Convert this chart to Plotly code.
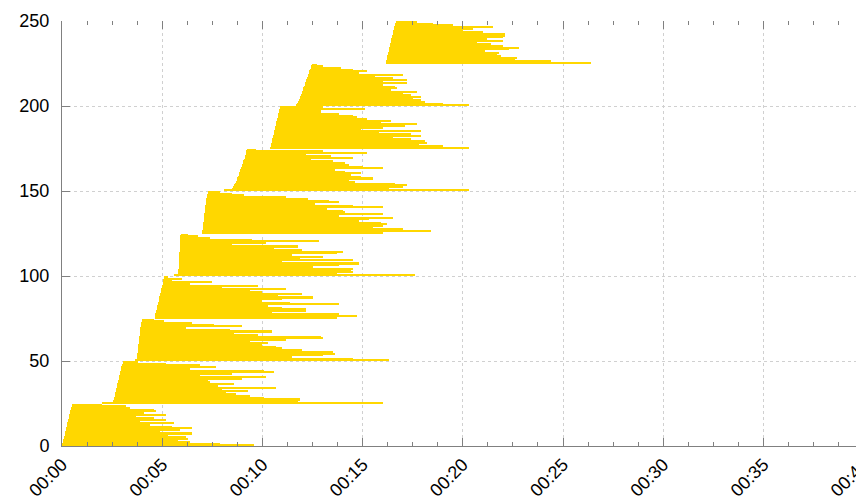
import plotly.graph_objects as go

# start / end times of each job, in minutes (10 batches of 25 jobs)
starts = [
    0.00, 0.02, 0.05, 0.07, 0.09, 0.11, 0.13, 0.15, 0.17, 0.19, 0.21, 0.23, 0.25, 0.27, 0.29, 0.31, 0.33, 0.35, 0.37, 0.39, 0.41, 0.43, 0.45, 0.48, 0.52,
    2.00, 2.55, 2.58, 2.60, 2.62, 2.64, 2.66, 2.68, 2.70, 2.72, 2.74, 2.76, 2.78, 2.80, 2.82, 2.84, 2.86, 2.88, 2.90, 2.92, 2.94, 2.96, 2.98, 3.02, 3.06,
    3.62, 3.72, 3.74, 3.75, 3.76, 3.77, 3.78, 3.79, 3.80, 3.81, 3.82, 3.83, 3.84, 3.85, 3.86, 3.87, 3.88, 3.89, 3.90, 3.91, 3.92, 3.94, 3.96, 3.98, 4.00,
    4.62, 4.64, 4.66, 4.68, 4.70, 4.72, 4.74, 4.76, 4.78, 4.80, 4.82, 4.84, 4.86, 4.88, 4.90, 4.92, 4.94, 4.96, 4.98, 5.00, 5.02, 5.04, 5.06, 5.08, 5.10,
    5.60, 5.80, 5.81, 5.81, 5.82, 5.82, 5.83, 5.83, 5.84, 5.84, 5.85, 5.85, 5.86, 5.86, 5.87, 5.87, 5.88, 5.88, 5.89, 5.89, 5.90, 5.90, 5.91, 5.91, 5.92,
    7.00, 7.01, 7.02, 7.03, 7.04, 7.05, 7.06, 7.07, 7.08, 7.09, 7.10, 7.11, 7.12, 7.13, 7.14, 7.15, 7.16, 7.17, 7.18, 7.19, 7.20, 7.22, 7.24, 7.27, 7.30,
    8.10, 8.50, 8.55, 8.60, 8.64, 8.68, 8.72, 8.75, 8.78, 8.81, 8.84, 8.87, 8.90, 8.93, 8.96, 8.99, 9.02, 9.05, 9.08, 9.11, 9.14, 9.16, 9.18, 9.20, 9.22,
    10.40, 10.42, 10.44, 10.46, 10.48, 10.50, 10.52, 10.54, 10.56, 10.58, 10.60, 10.62, 10.64, 10.66, 10.68, 10.70, 10.72, 10.74, 10.76, 10.78, 10.80, 10.82, 10.84, 10.86, 10.90,
    11.70, 11.74, 11.78, 11.82, 11.86, 11.90, 11.93, 11.96, 11.99, 12.02, 12.05, 12.08, 12.11, 12.14, 12.17, 12.20, 12.23, 12.26, 12.29, 12.32, 12.35, 12.38, 12.41, 12.44, 12.47,
    16.15, 16.18, 16.20, 16.22, 16.24, 16.26, 16.28, 16.30, 16.32, 16.34, 16.36, 16.38, 16.40, 16.42, 16.44, 16.46, 16.48, 16.50, 16.52, 16.54, 16.56, 16.58, 16.60, 16.62, 16.65,
]

ends = [
    9.6, 7.9, 6.4, 5.8, 6.3, 6.2, 5.3, 6.5, 4.9, 5.9, 6.5, 5.5, 4.4, 5.6, 3.9, 5.2, 4.6, 3.7, 5.2, 4.1, 4.7, 4.6, 3.4, 3.2, 2.0,
    16.0, 11.8, 11.9, 10.1, 9.4, 8.7, 8.2, 9.3, 8.0, 10.7, 7.8, 8.6, 7.4, 7.3, 9.0, 10.2, 6.9, 8.5, 10.6, 10.1, 6.4, 7.7, 6.9, 5.2, 3.8,
    16.3, 14.5, 11.5, 13.0, 13.6, 13.5, 12.0, 11.0, 10.7, 10.0, 10.3, 9.4, 11.2, 13.0, 12.9, 9.8, 8.6, 10.5, 8.4, 6.2, 9.0, 7.6, 6.5, 5.1, 4.6,
    13.7, 14.7, 13.8, 10.5, 12.2, 12.2, 11.0, 10.3, 13.8, 11.4, 10.0, 11.0, 12.5, 10.8, 12.0, 10.0, 9.4, 11.2, 8.0, 9.8, 6.4, 7.5, 5.5, 6.0, 5.3,
    17.6, 13.7, 14.5, 14.4, 14.5, 12.5, 13.8, 14.8, 11.0, 14.5, 11.9, 13.0, 11.5, 13.7, 14.0, 12.0, 10.6, 11.8, 8.5, 10.2, 12.8, 9.5, 7.4, 6.8, 6.3,
    16.0, 18.4, 17.0, 15.5, 16.0, 16.2, 15.9, 14.8, 15.3, 16.5, 13.8, 16.0, 14.1, 14.0, 13.2, 16.0, 14.5, 12.6, 13.8, 13.3, 12.3, 11.2, 9.1, 8.5, 7.9,
    20.3, 16.3, 17.0, 17.2, 16.6, 14.6, 14.3, 15.5, 14.9, 14.4, 14.9, 14.1, 13.6, 16.0, 15.0, 14.3, 14.1, 13.5, 12.4, 14.5, 13.4, 12.2, 15.2, 13.0, 9.7,
    20.3, 19.0, 17.8, 18.2, 18.1, 17.4, 16.5, 17.9, 17.4, 15.8, 17.9, 14.9, 16.0, 17.1, 17.7, 15.9, 16.4, 15.2, 14.7, 14.5, 13.8, 12.9, 12.9, 15.1, 13.0,
    20.3, 19.0, 18.1, 17.9, 17.5, 17.9, 17.4, 17.0, 17.7, 16.4, 16.7, 16.6, 16.0, 17.2, 16.0, 17.2, 16.5, 15.6, 17.0, 14.8, 15.2, 14.5, 13.9, 13.0, 12.7,
    26.4, 24.4, 22.6, 22.7, 21.9, 21.7, 21.8, 21.1, 22.3, 22.8, 22.0, 21.4, 20.7, 22.0, 21.2, 22.0, 22.1, 22.1, 21.0, 20.0, 20.5, 21.5, 19.5, 18.5, 17.7,
]

job_ids = list(range(len(starts)))

x_tick_vals = [0, 5, 10, 15, 20, 25, 30, 35, 40]
x_tick_text = ["00:00", "00:05", "00:10", "00:15", "00:20", "00:25", "00:30", "00:35", "00:40"]
y_tick_vals = [0, 50, 100, 150, 200, 250]

durations = [e - s for s, e in zip(starts, ends)]

BAR_COLOR = "#FFD700"
GRID = "#d0d0d0"
AXIS = "#808080"
FONT = dict(family="Liberation Sans, Arial, sans-serif", size=18, color="black")

fig = go.Figure()
fig.add_trace(go.Bar(
    y=job_ids, x=durations, base=starts, orientation="h",
    width=1, offset=0,
    marker=dict(color=BAR_COLOR, line=dict(width=0)),
    showlegend=False, hoverinfo="skip",
))
# invisible trace to host the top (mirrored tick) axis
fig.add_trace(go.Scatter(x=[0], y=[0], xaxis="x2", mode="markers",
                         marker=dict(opacity=0), showlegend=False, hoverinfo="skip"))

X_RANGE = [0, 40.02]

fig.update_layout(
    width=856, height=488,
    margin=dict(l=54, r=0, t=13, b=50),
    paper_bgcolor="white", plot_bgcolor="white",
    bargap=0,
    font=FONT,
    xaxis=dict(
        range=X_RANGE, tickvals=x_tick_vals, ticktext=x_tick_text,
        tickangle=-45, tickfont=FONT, ticklabeloverflow="allow",
        ticks="inside", ticklen=8, tickcolor=AXIS, tickwidth=1,
        showline=True, linecolor=AXIS, linewidth=1,
        showgrid=True, gridcolor=GRID, griddash="dot", gridwidth=1,
        zeroline=False, automargin=False,
        minor=dict(dtick=1.25, ticks="inside", ticklen=4, tickcolor=AXIS, showgrid=False),
    ),
    xaxis2=dict(
        range=X_RANGE, overlaying="x", side="top", matches="x",
        tickvals=x_tick_vals, showticklabels=False,
        ticks="inside", ticklen=8, tickcolor=AXIS,
        showline=False, showgrid=False, zeroline=False, automargin=False,
        minor=dict(dtick=1.25, ticks="inside", ticklen=4, tickcolor=AXIS, showgrid=False),
    ),
    yaxis=dict(
        range=[0, 250], tickvals=y_tick_vals, tickfont=FONT,
        ticks="inside", ticklen=8, tickcolor=AXIS,
        showline=True, linecolor=AXIS, linewidth=1,
        showgrid=True, gridcolor=GRID, griddash="dot", gridwidth=1,
        zeroline=False, automargin=False, ticklabelstandoff=8,
    ),
)

fig.write_html("out.html")
